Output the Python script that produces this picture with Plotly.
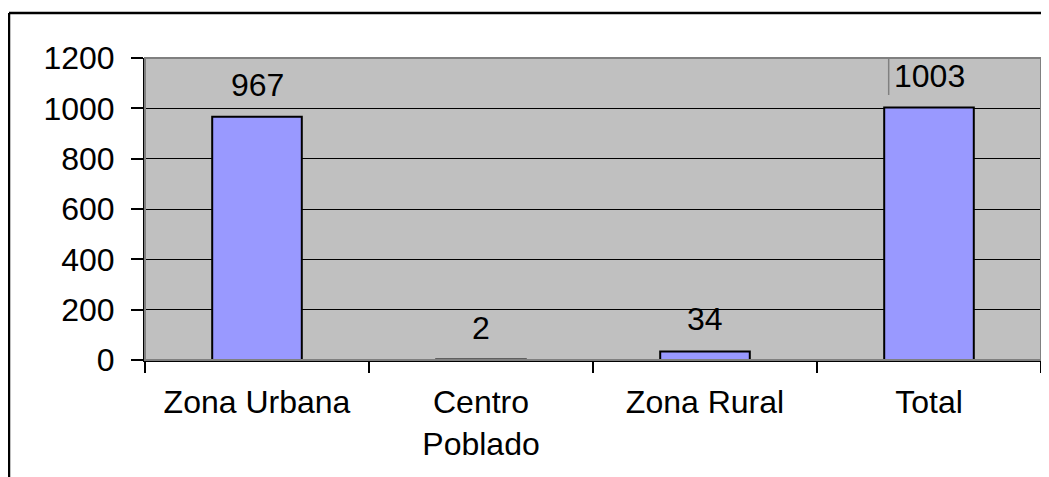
import plotly.graph_objects as go

categories = ["Zona Urbana", "Centro<br>Poblado", "Zona Rural", "Total"]
values = [967, 2, 34, 1003]
y_ticks = [0, 200, 400, 600, 800, 1000, 1200]

FONT = "Liberation Sans, Arial, sans-serif"
FS = 32

fig = go.Figure()
fig.add_trace(go.Bar(
    x=categories, y=values,
    marker=dict(color="#9999FF", line=dict(color="black", width=2)),
    width=0.40,
    hoverinfo="skip",
))

for c, v in zip(categories, values):
    fig.add_annotation(x=c, y=v, text=str(v), showarrow=False,
                       yanchor="bottom", yshift=12,
                       font=dict(family=FONT, size=FS, color="black"))

# plot-area border (gray) on top of grid
fig.add_shape(type="rect", xref="paper", yref="paper", x0=0, x1=1, y0=0, y1=1,
              line=dict(color="#808080", width=2), layer="above")
# text-cursor artifact near the Total label
fig.add_shape(type="line", xref="x", yref="y", x0=2.82, x1=2.82, y0=1200, y1=1053,
              line=dict(color="#808080", width=1.5), layer="above")
# outer chart border (left and top)
BX = (9 - 145) / 896
BY = (360 - 13) / 302
fig.add_shape(type="line", xref="paper", yref="paper",
              x0=BX, x1=1.05, y0=BY, y1=BY,
              line=dict(color="black", width=2.5))
fig.add_shape(type="line", xref="paper", yref="paper",
              x0=BX, x1=BX, y0=BY, y1=-0.6,
              line=dict(color="black", width=2.5))

fig.update_layout(
    width=1041, height=469,
    margin=dict(l=137, r=8, t=50, b=117),
    paper_bgcolor="white", plot_bgcolor="#C0C0C0",
    showlegend=False, bargap=0.6,
    font=dict(family=FONT, size=FS, color="black"),
)
fig.update_xaxes(
    showline=True, linecolor="black", linewidth=2,
    ticks="outside", tickson="boundaries", ticklen=11, tickwidth=2, tickcolor="black",
    showgrid=False, tickfont=dict(family=FONT, size=FS, color="black"),
    ticklabelstandoff=13,
)
fig.update_yaxes(
    range=[0, 1200], tickvals=y_ticks, showline=True, linecolor="black", linewidth=2,
    ticks="outside", ticklen=12, tickwidth=2, tickcolor="black",
    showgrid=True, gridcolor="black", gridwidth=1, zeroline=False,
    tickfont=dict(family=FONT, size=FS, color="black"), ticklabelstandoff=10,
)

fig.write_html("out.html")
